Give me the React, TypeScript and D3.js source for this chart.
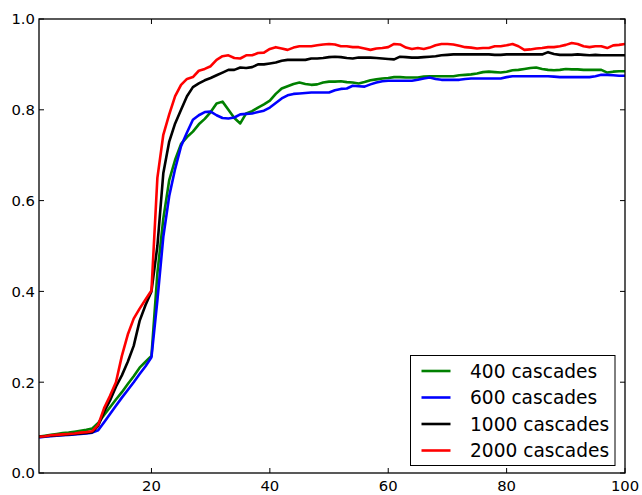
import React from "react";
import * as d3 from "d3";

const seriesNames = ["400 cascades", "600 cascades", "1000 cascades", "2000 cascades"];
const seriesColors = ["#008000", "#0000ff", "#000000", "#ff0000"];

const green = [
  0.080, 0.082, 0.084, 0.086, 0.088, 0.089, 0.091, 0.093, 0.095, 0.098,
  0.110, 0.128, 0.145, 0.162, 0.178, 0.196, 0.213, 0.232, 0.245, 0.258,
  0.44, 0.56, 0.645, 0.69, 0.725, 0.74, 0.752, 0.768, 0.78, 0.795,
  0.814, 0.818, 0.80, 0.782, 0.77, 0.792, 0.797, 0.805, 0.812, 0.82,
  0.835, 0.847, 0.852, 0.857, 0.86, 0.857, 0.855, 0.856, 0.86, 0.862,
  0.862, 0.863, 0.861, 0.86, 0.858, 0.861, 0.865, 0.867, 0.869, 0.87,
  0.872, 0.872, 0.871, 0.871, 0.871, 0.873, 0.874, 0.874, 0.874, 0.874,
  0.874, 0.876, 0.877, 0.878, 0.88, 0.883, 0.884, 0.883, 0.882, 0.884,
  0.887, 0.888, 0.89, 0.892, 0.893, 0.89, 0.888, 0.887, 0.888, 0.89,
  0.889, 0.889, 0.888, 0.888, 0.888, 0.888, 0.882, 0.884, 0.885, 0.885,
];

const blue = [
  0.078, 0.080, 0.081, 0.082, 0.083, 0.084, 0.085, 0.086, 0.087, 0.089,
  0.094, 0.112, 0.130, 0.148, 0.166, 0.183, 0.200, 0.218, 0.235, 0.255,
  0.38, 0.52, 0.61, 0.67, 0.72, 0.75, 0.778, 0.788, 0.795, 0.796,
  0.788, 0.782, 0.781, 0.783, 0.79, 0.791, 0.792, 0.795, 0.798, 0.805,
  0.815, 0.825, 0.832, 0.835, 0.836, 0.837, 0.838, 0.838, 0.838, 0.838,
  0.843, 0.846, 0.847, 0.853, 0.852, 0.851, 0.856, 0.86, 0.863, 0.864,
  0.864, 0.864, 0.864, 0.864, 0.866, 0.869, 0.871, 0.868, 0.866, 0.866,
  0.866, 0.866, 0.868, 0.869, 0.869, 0.869, 0.869, 0.869, 0.869, 0.872,
  0.874, 0.874, 0.874, 0.874, 0.874, 0.874, 0.874, 0.873, 0.872, 0.872,
  0.872, 0.872, 0.872, 0.872, 0.874, 0.877, 0.877, 0.876, 0.875, 0.875,
];

const black = [
  0.080, 0.081, 0.082, 0.083, 0.084, 0.085, 0.086, 0.087, 0.088, 0.090,
  0.104, 0.135, 0.160, 0.190, 0.215, 0.245, 0.280, 0.335, 0.370, 0.400,
  0.50, 0.66, 0.73, 0.77, 0.80, 0.83, 0.85, 0.858, 0.865, 0.870,
  0.876, 0.882, 0.888, 0.888, 0.893, 0.892, 0.894, 0.900, 0.900, 0.902,
  0.904, 0.908, 0.91, 0.91, 0.91, 0.91, 0.913, 0.913, 0.914, 0.916,
  0.917, 0.916, 0.914, 0.913, 0.915, 0.915, 0.915, 0.914, 0.913, 0.912,
  0.911, 0.917, 0.916, 0.915, 0.915, 0.916, 0.917, 0.918, 0.92, 0.921,
  0.922, 0.922, 0.922, 0.922, 0.922, 0.922, 0.922, 0.921, 0.921, 0.922,
  0.922, 0.922, 0.922, 0.922, 0.922, 0.922, 0.927, 0.923, 0.921, 0.921,
  0.921, 0.922, 0.921, 0.92, 0.921, 0.92, 0.92, 0.92, 0.92, 0.92,
];

const red = [
  0.080, 0.081, 0.083, 0.084, 0.085, 0.086, 0.087, 0.089, 0.090, 0.092,
  0.106, 0.143, 0.170, 0.200, 0.258, 0.305, 0.340, 0.362, 0.382, 0.402,
  0.65, 0.745, 0.79, 0.83, 0.855, 0.868, 0.872, 0.886, 0.89, 0.896,
  0.91, 0.918, 0.92, 0.914, 0.913, 0.92, 0.92, 0.925, 0.926, 0.934,
  0.938, 0.935, 0.932, 0.937, 0.94, 0.94, 0.94, 0.942, 0.944, 0.945,
  0.944, 0.94, 0.94, 0.938, 0.938, 0.935, 0.932, 0.935, 0.936, 0.938,
  0.945, 0.944, 0.937, 0.934, 0.936, 0.934, 0.937, 0.942, 0.945, 0.945,
  0.944, 0.941, 0.938, 0.937, 0.935, 0.936, 0.936, 0.94, 0.94, 0.942,
  0.945, 0.94, 0.932, 0.933, 0.935, 0.936, 0.938, 0.938, 0.94, 0.943,
  0.947, 0.945, 0.94, 0.938, 0.94, 0.94, 0.936, 0.942, 0.943, 0.945,
];

const xTicks = [20, 40, 60, 80, 100];
const yTicks = [0, 0.2, 0.4, 0.6, 0.8, 1.0];

const W = 642;
const H = 495;
const left = 39;
const right = 625;
const top = 19;
const bottom = 473;

export default function App() {
  const allSeries = [green, blue, black, red];
  const x = d3.scaleLinear().domain([1, 100]).range([left, right]);
  const y = d3.scaleLinear().domain([0, 1]).range([bottom, top]);
  const line = d3
    .line<number>()
    .x((_, i) => x(i + 1))
    .y((d) => y(d));
  const font = "DejaVu Sans, sans-serif";
  const tickLen = 5;

  const legX = 410.5;
  const legY = 355.5;
  const legW = 204.5;
  const legH = 110;
  const rowH = 26.5;

  return (
    <svg
      width={W}
      height={H}
      style={{ position: "absolute", left: 0, top: 0, display: "block", background: "#fff" }}
    >
      <defs>
        <clipPath id="plotclip">
          <rect x={left} y={top} width={right - left} height={bottom - top} />
        </clipPath>
      </defs>
      <g clipPath="url(#plotclip)">
        {allSeries.map((s, i) => (
          <path
            key={i}
            d={line(s) || ""}
            fill="none"
            stroke={seriesColors[i]}
            strokeWidth={2.6}
            strokeLinejoin="round"
          />
        ))}
      </g>
      {xTicks.map((t) => (
        <g key={"xt" + t}>
          <line x1={x(t)} x2={x(t)} y1={bottom} y2={bottom - tickLen} stroke="#000" strokeWidth={1} />
          <line x1={x(t)} x2={x(t)} y1={top} y2={top + tickLen} stroke="#000" strokeWidth={1} />
          <text
            x={x(t)}
            y={bottom + 18}
            textAnchor="middle"
            fontFamily={font}
            fontSize={14.8}
            fill="#000"
          >
            {t}
          </text>
        </g>
      ))}
      {yTicks.map((t) => (
        <g key={"yt" + t}>
          <line x1={left} x2={left + tickLen} y1={y(t)} y2={y(t)} stroke="#000" strokeWidth={1} />
          <line x1={right} x2={right - tickLen} y1={y(t)} y2={y(t)} stroke="#000" strokeWidth={1} />
          <text
            x={left - 4}
            y={y(t)}
            dy="0.36em"
            textAnchor="end"
            fontFamily={font}
            fontSize={14.8}
            fill="#000"
          >
            {t.toFixed(1)}
          </text>
        </g>
      ))}
      <rect
        x={left}
        y={top}
        width={right - left}
        height={bottom - top}
        fill="none"
        stroke="#000"
        strokeWidth={1.3}
      />
      <rect x={legX} y={legY} width={legW} height={legH} fill="#fff" stroke="#000" strokeWidth={1} />
      {seriesNames.map((n, i) => {
        const cy = legY + 15.5 + i * rowH;
        return (
          <g key={n}>
            <line x1={421.5} x2={450.5} y1={cy} y2={cy} stroke={seriesColors[i]} strokeWidth={2.6} />
            <text x={470} y={cy} dy="0.36em" fontFamily={font} fontSize={18.6} fill="#000">
              {n}
            </text>
          </g>
        );
      })}
    </svg>
  );
}
